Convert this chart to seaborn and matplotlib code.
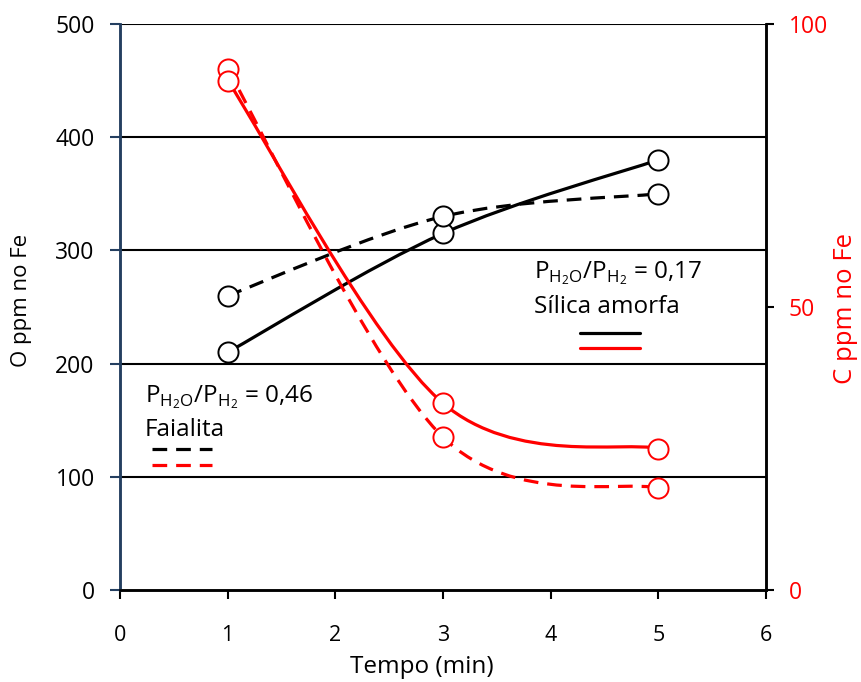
import numpy as np
import pandas as pd
import matplotlib
matplotlib.use("Agg")
import matplotlib.pyplot as plt
from matplotlib.path import Path
from matplotlib.patches import PathPatch
import seaborn as sns

# ---- data ----
tempo = [1, 3, 5]
o_silica = [210, 315, 380]      # O ppm, Sílica amorfa (solid black)
o_faialita = [260, 330, 350]    # O ppm, Faialita (dashed black)
c_silica = [90, 33, 25]         # C ppm, Sílica amorfa (solid red)
c_faialita = [92, 27, 18]       # C ppm, Faialita (dashed red)
x_ticks = [0, 1, 2, 3, 4, 5, 6]
o_ticks = [0, 100, 200, 300, 400, 500]
c_ticks = [0, 50, 100]

sns.set_theme(style="white")
plt.rcParams['font.family'] = ['Open Sans', 'DejaVu Sans']
plt.rcParams['mathtext.fontset'] = 'dejavusans'
plt.rcParams['text.color'] = 'black'
plt.rcParams['axes.labelcolor'] = 'black'
plt.rcParams['xtick.color'] = 'black'
plt.rcParams['ytick.color'] = 'black'

W, H = 8.61, 6.82
fig = plt.figure(figsize=(W, H), dpi=100)
ax = fig.add_axes([120/861, (682-590)/682, 646/861, 566/682])
ax2 = ax.twinx()

ax.set_xlim(0, 6)
ax.set_ylim(0, 500)
ax2.set_ylim(0, 100)

NAVY = '#243F60'
RED = '#FF0000'


def smooth_path(xs, ys, sx, sy):
    """Smoothed (Catmull-Rom style) Bezier path through the data points."""
    P = np.column_stack([np.asarray(xs, float) * sx, np.asarray(ys, float) * sy])
    n = len(P)
    verts = [P[0]]
    codes = [Path.MOVETO]
    for i in range(n - 1):
        p0 = P[i - 1] if i > 0 else P[i]
        p1 = P[i]
        p2 = P[i + 1]
        p3 = P[i + 2] if i + 2 < n else P[i + 1]
        c1 = p1 + (p2 - p0) / 6.0
        c2 = p2 - (p3 - p1) / 6.0
        verts += [c1, c2, p2]
        codes += [Path.CURVE4] * 3
    verts = np.array(verts)
    verts[:, 0] /= sx
    verts[:, 1] /= sy
    return Path(verts, codes)


sx = 646 / 6
lw = 2.3
dash = (0, (4.6, 2.8))

for a, ys, sy, color, ls in [
    (ax, o_silica, 566 / 500, 'black', '-'),
    (ax, o_faialita, 566 / 500, 'black', dash),
    (ax2, c_faialita, 566 / 100, RED, dash),
    (ax2, c_silica, 566 / 100, RED, '-'),
]:
    patch = PathPatch(smooth_path(tempo, ys, sx, sy), facecolor='none',
                      edgecolor=color, lw=lw, linestyle=ls, zorder=3,
                      capstyle='butt')
    a.add_patch(patch)

df_o = pd.DataFrame({'t': tempo * 2, 'v': o_silica + o_faialita})
df_c = pd.DataFrame({'t': tempo * 2, 'v': c_faialita + c_silica})
sns.scatterplot(data=df_o, x='t', y='v', ax=ax, s=210, marker='o',
                facecolor='white', edgecolor='black', linewidth=1.4, zorder=4)
sns.scatterplot(data=df_c, x='t', y='v', ax=ax2, s=210, marker='o',
                facecolor='white', edgecolor=RED, linewidth=1.4, zorder=4)

# grid lines
for v in o_ticks[1:]:
    ax.axhline(v, color='black', lw=1.5, zorder=1)

ax.set_xticks(x_ticks)
ax.set_yticks(o_ticks)
ax2.set_yticks(c_ticks)
ax.set_xlabel('')
ax.set_ylabel('')
ax2.set_ylabel('')

for lab in ax.get_xticklabels():
    lab.set_fontsize(15.5)
    lab.set_color('black')
for lab in ax.get_yticklabels():
    lab.set_fontsize(16.5)
    lab.set_color('black')
for lab in ax2.get_yticklabels():
    lab.set_fontsize(16.5)
    lab.set_color(RED)

ax.tick_params(axis='x', direction='out', length=6.5, width=1.5, color='black',
               bottom=True, pad=18.5)
ax.tick_params(axis='y', direction='out', length=7.2, width=1.5, color=NAVY,
               left=True, pad=11)
ax2.tick_params(axis='y', direction='out', length=5.5, width=1.5, color='black',
                right=True, pad=11)

for a in (ax, ax2):
    a.spines['top'].set_visible(False)
    a.spines['left'].set_color(NAVY)
    a.spines['left'].set_linewidth(1.8)
    a.spines['bottom'].set_color('black')
    a.spines['bottom'].set_linewidth(1.8)
    a.spines['right'].set_color('black')
    a.spines['right'].set_linewidth(1.8)
ax.set_facecolor('none')

# axis titles
fig.text(422/861, (682-673)/682, 'Tempo (min)', fontsize=17.5,
         ha='center', va='baseline', color='black')
fig.text(22/861, (682-300)/682, 'O ppm no Fe', fontsize=16, rotation=90,
         ha='center', va='center', color='black')
fig.text(846/861, (682-309)/682, 'C ppm no Fe', fontsize=18.5, rotation=90,
         ha='center', va='center', color=RED)

# annotations (axes fraction)
def fx(px):
    return (px - 120) / 646

def fy(py):
    return (590 - py) / 566

tp = dict(fontsize=17.5, transform=ax.transAxes, va='baseline', ha='left',
          color='black')
ax.text(fx(534), fy(278), r'P$_{\mathregular{H_2O}}$/P$_{\mathregular{H_2}}$ = 0,17', **tp)
ax.text(fx(534), fy(313), 'Sílica amorfa', **tp)
ax.text(fx(145), fy(402), r'P$_{\mathregular{H_2O}}$/P$_{\mathregular{H_2}}$ = 0,46', **tp)
ax.text(fx(145), fy(436), 'Faialita', **tp)

ax.plot([fx(580), fx(640)], [fy(333)] * 2, color='black', lw=lw,
        transform=ax.transAxes, clip_on=False)
ax.plot([fx(580), fx(640)], [fy(348)] * 2, color=RED, lw=lw,
        transform=ax.transAxes, clip_on=False)
ax.plot([fx(152), fx(212)], [fy(449)] * 2, color='black', lw=lw, ls=dash,
        transform=ax.transAxes, clip_on=False)
ax.plot([fx(152), fx(212)], [fy(465)] * 2, color=RED, lw=lw, ls=dash,
        transform=ax.transAxes, clip_on=False)

fig.savefig('out.png', dpi=100)
